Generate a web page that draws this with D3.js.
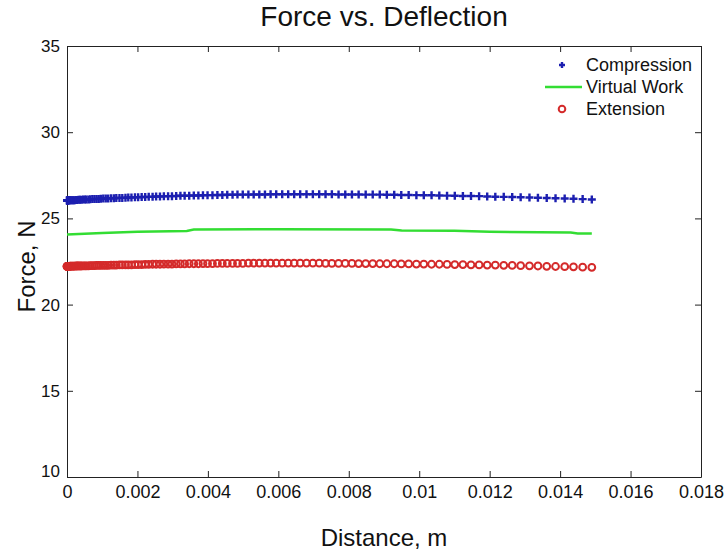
<!DOCTYPE html>
<html>
<head>
  <meta charset="utf-8">
  <script src="https://d3js.org/d3.v7.min.js"></script>
  <style>
    body { margin: 0; background: #fff; }
    svg text { font-family: "Liberation Sans", Arial, sans-serif; fill: #111; }
    .xaxis .tick text { font-family: "Liberation Sans Narrow", "Liberation Sans", Arial, sans-serif; }
  </style>
</head>
<body>
  <svg width="727" height="554"></svg>

  <script>
    // distance of each measured point, in mm (converted to m below)
    var distanceMm = [
      0, 0.001, 0.005, 0.01, 0.02, 0.03, 0.04, 0.06, 0.07, 0.09,
      0.11, 0.14, 0.17, 0.19, 0.22, 0.26, 0.29, 0.33, 0.37, 0.41,
      0.46, 0.51, 0.55, 0.61, 0.66, 0.72, 0.78, 0.84, 0.90, 0.96,
      1.03, 1.10, 1.17, 1.25, 1.33, 1.40, 1.49, 1.57, 1.66, 1.74,
      1.83, 1.93, 2.02, 2.12, 2.22, 2.32, 2.43, 2.53, 2.64, 2.75,
      2.87, 2.98, 3.10, 3.22, 3.34, 3.47, 3.60, 3.73, 3.86, 3.99,
      4.13, 4.27, 4.41, 4.55, 4.70, 4.84, 4.99, 5.15, 5.30, 5.46,
      5.62, 5.78, 5.94, 6.11, 6.28, 6.45, 6.62, 6.80, 6.98, 7.16,
      7.34, 7.52, 7.71, 7.90, 8.09, 8.28, 8.48, 8.68, 8.88, 9.08,
      9.29, 9.49, 9.70, 9.92, 10.13, 10.35, 10.57, 10.79, 11.01, 11.24,
      11.47, 11.70, 11.93, 12.16, 12.40, 12.64, 12.88, 13.13, 13.37, 13.62,
      13.87, 14.13, 14.38, 14.64, 14.90
    ];

    var compression = [
      26.04, 26.04, 26.04, 26.04, 26.04, 26.04, 26.04, 26.05, 26.05, 26.05,
      26.05, 26.06, 26.06, 26.06, 26.06, 26.07, 26.07, 26.08, 26.08, 26.08,
      26.09, 26.09, 26.10, 26.10, 26.11, 26.12, 26.12, 26.13, 26.13, 26.14,
      26.15, 26.15, 26.16, 26.17, 26.17, 26.18, 26.19, 26.19, 26.20, 26.21,
      26.21, 26.22, 26.23, 26.24, 26.24, 26.25, 26.26, 26.27, 26.27, 26.28,
      26.29, 26.29, 26.30, 26.31, 26.31, 26.32, 26.33, 26.33, 26.34, 26.35,
      26.35, 26.36, 26.36, 26.37, 26.37, 26.38, 26.38, 26.38, 26.39, 26.39,
      26.39, 26.40, 26.40, 26.40, 26.40, 26.40, 26.40, 26.40, 26.40, 26.40,
      26.40, 26.40, 26.39, 26.39, 26.39, 26.39, 26.38, 26.38, 26.38, 26.37,
      26.37, 26.36, 26.36, 26.35, 26.34, 26.34, 26.33, 26.32, 26.31, 26.30,
      26.30, 26.29, 26.27, 26.26, 26.25, 26.24, 26.23, 26.21, 26.20, 26.18,
      26.17, 26.15, 26.14, 26.12, 26.10
    ];

    var extension = [
      22.22, 22.22, 22.22, 22.22, 22.22, 22.22, 22.22, 22.22, 22.22, 22.23,
      22.23, 22.23, 22.23, 22.23, 22.23, 22.24, 22.24, 22.24, 22.24, 22.24,
      22.25, 22.25, 22.25, 22.25, 22.26, 22.26, 22.26, 22.27, 22.27, 22.27,
      22.28, 22.28, 22.28, 22.29, 22.29, 22.29, 22.30, 22.30, 22.31, 22.31,
      22.31, 22.32, 22.32, 22.32, 22.33, 22.33, 22.34, 22.34, 22.34, 22.35,
      22.35, 22.35, 22.36, 22.36, 22.36, 22.37, 22.37, 22.37, 22.38, 22.38,
      22.38, 22.39, 22.39, 22.39, 22.39, 22.39, 22.39, 22.40, 22.40, 22.40,
      22.40, 22.40, 22.40, 22.40, 22.40, 22.40, 22.40, 22.40, 22.40, 22.40,
      22.39, 22.39, 22.39, 22.39, 22.39, 22.38, 22.38, 22.38, 22.37, 22.37,
      22.37, 22.36, 22.36, 22.35, 22.35, 22.34, 22.34, 22.33, 22.32, 22.32,
      22.31, 22.30, 22.29, 22.29, 22.28, 22.27, 22.26, 22.25, 22.24, 22.22,
      22.21, 22.20, 22.19, 22.17, 22.16
    ];

    // virtual work prediction (line)
    var virtualMm = [0, 1.0, 2.0, 3.4, 3.6, 6.0, 9.2, 9.5, 11.0, 12.0, 14.3, 14.5, 14.9];
    var virtualWork = [24.07, 24.15, 24.22, 24.27, 24.35, 24.37, 24.36, 24.30, 24.28, 24.22, 24.18, 24.13, 24.13];

    var xTicks = [0, 0.002, 0.004, 0.006, 0.008, 0.01, 0.012, 0.014, 0.016, 0.018];
    var yTicks = [10, 15, 20, 25, 30, 35];
    var legendNames = ["Compression", "Virtual Work", "Extension"];

    var distance = distanceMm.map(d => d / 1000);
    var virtualDist = virtualMm.map(d => d / 1000);

    var margin = { left: 67, right: 26, top: 46, bottom: 77 };
    var svg = d3.select("svg");
    var W = 727, H = 554;

    var x = d3.scaleLinear().domain([0, 0.018]).range([margin.left, W - margin.right]);
    var y = d3.scaleLinear().domain([10, 35]).range([H - margin.bottom, margin.top]);

    var blue = "#1c1fb0", green = "#33dd33", red = "#d42a2a";

    // axes box (ticks inward on all sides)
    svg.append("g")
      .attr("class", "xaxis")
      .attr("transform", `translate(0,${y(10)})`)
      .call(d3.axisBottom(x).tickValues(xTicks).tickSizeInner(-6).tickSizeOuter(0).tickPadding(8)
        .tickFormat(d => d === 0 ? "0" : String(+d.toFixed(3))));
    svg.append("g")
      .attr("transform", `translate(0,${y(35)})`)
      .call(d3.axisTop(x).tickValues(xTicks).tickSizeInner(-6).tickSizeOuter(0).tickFormat(""));
    svg.append("g")
      .attr("class", "yaxis")
      .attr("transform", `translate(${x(0)},0)`)
      .call(d3.axisLeft(y).tickValues(yTicks).tickSizeInner(-6).tickSizeOuter(0).tickPadding(7));
    svg.append("g")
      .attr("transform", `translate(${x(0.018)},0)`)
      .call(d3.axisRight(y).tickValues(yTicks).tickSizeInner(-6).tickSizeOuter(0).tickFormat(""));

    svg.selectAll(".domain").attr("stroke", "#222");
    svg.selectAll(".tick line").attr("stroke", "#222");
    svg.selectAll(".tick text").attr("fill", "#111");
    svg.selectAll(".xaxis .tick text").style("font-size", "18px");
    svg.selectAll(".yaxis .tick text").style("font-size", "17px");
    // MATLAB puts the lowest y label a little above the corner
    svg.selectAll(".yaxis .tick text").filter(d => d === 10).attr("dy", "-0.05em");

    // virtual work line
    var line = d3.line().x((d, i) => x(virtualDist[i])).y(d => y(d));
    svg.append("path")
      .datum(virtualWork)
      .attr("d", line)
      .attr("fill", "none")
      .attr("stroke", green)
      .attr("stroke-width", 2.5);

    // compression markers (+)
    svg.append("g").selectAll("path")
      .data(compression)
      .enter()
      .append("path")
      .attr("d", (d, i) => {
        var cx = x(distance[i]), cy = y(d);
        return `M${cx - 4},${cy}H${cx + 4}M${cx},${cy - 4}V${cy + 4}`;
      })
      .attr("stroke", blue)
      .attr("stroke-width", 2.4);

    // extension markers (o)
    svg.append("g").selectAll("circle")
      .data(extension)
      .enter()
      .append("circle")
      .attr("cx", (d, i) => x(distance[i]))
      .attr("cy", d => y(d))
      .attr("r", 3.4)
      .attr("fill", "none")
      .attr("stroke", red)
      .attr("stroke-width", 2);

    // legend
    var lg = svg.append("g");
    var ly = [65, 87, 109];
    lg.append("path")
      .attr("d", `M559,${ly[0]}H565M562,${ly[0] - 3}V${ly[0] + 3}`)
      .attr("stroke", blue).attr("stroke-width", 2.4);
    lg.append("line")
      .attr("x1", 545).attr("x2", 582).attr("y1", ly[1]).attr("y2", ly[1])
      .attr("stroke", green).attr("stroke-width", 2.5);
    lg.append("circle")
      .attr("cx", 562).attr("cy", ly[2]).attr("r", 3.3)
      .attr("fill", "none").attr("stroke", red).attr("stroke-width", 2);
    lg.selectAll("text")
      .data(legendNames)
      .enter()
      .append("text")
      .attr("x", 586)
      .attr("y", (d, i) => ly[i])
      .attr("dy", "0.35em")
      .style("font-size", "18px")
      .text(d => d);

    // title and axis labels
    svg.append("text")
      .attr("x", (x(0) + x(0.018)) / 2)
      .attr("y", 26)
      .attr("text-anchor", "middle")
      .style("font-size", "28px")
      .text("Force vs. Deflection");

    svg.append("text")
      .attr("x", (x(0) + x(0.018)) / 2)
      .attr("y", 546)
      .attr("text-anchor", "middle")
      .style("font-size", "24px")
      .text("Distance, m");

    svg.append("text")
      .attr("transform", `translate(35,${(y(10) + y(35)) / 2 + 5}) rotate(-90)`)
      .attr("text-anchor", "middle")
      .style("font-size", "24px")
      .text("Force, N");
  </script>
</body>
</html>
